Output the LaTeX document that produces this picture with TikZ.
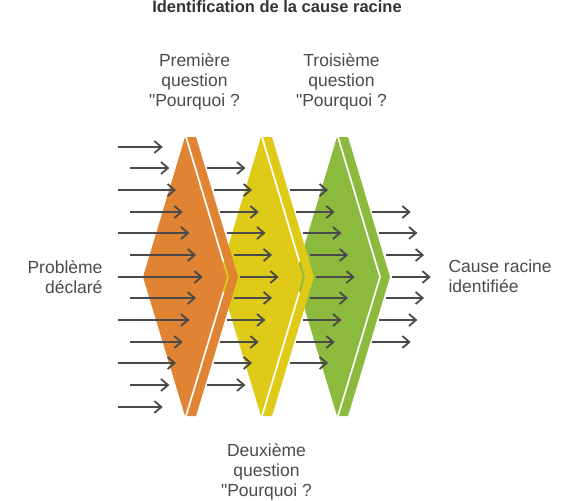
\documentclass[tikz,border=0pt]{standalone}
\usepackage{fontspec}
\setmainfont{Liberation Sans}
\usepackage{xcolor}
\usetikzlibrary{arrows.meta,positioning,calc}
\definecolor{whyorange}{HTML}{E08332}
\definecolor{whyyellow}{HTML}{DECA17}
\definecolor{whygreen}{HTML}{8CBA3C}
\definecolor{flowgray}{HTML}{4A4A4A}
\definecolor{textgray}{HTML}{4B4B4B}

\begin{document}
\begin{tikzpicture}[x=1pt,y=-1pt,>={Straight Barb[length=7pt,width=12pt]}]
  \tikzstyle{flow}=[->,draw=flowgray,line width=1.8pt]
  \tikzstyle{label}=[text=textgray,align=center,font=\fontsize{17.5}{20}\selectfont]
  \useasboundingbox (0,0) rectangle (585,500);
  % chevrons, drawn from the back to the front
  \foreach \t/\col in {337/whygreen,261/whyyellow,185/whyorange}{
    \fill[\col] (\t,137) -- (\t+42,277) -- (\t,416) -- (\t-42,277) -- cycle;
    \fill[\col] (\t+2,137) -- (\t+11,137) -- (\t+53,277) -- (\t+11,416)
      -- (\t+2,416) -- (\t+44,277) -- cycle;
  }
  % arrows, one group per stage
  \foreach \g in {0,...,3}{
    \pgfmathtruncatemacro\last{12-\g}
    \foreach \i in {\g,...,\last}{
      \pgfmathsetmacro\d{6-abs(\i-6)}
      \pgfmathsetmacro\xe{162.7+76*\g+6.67*\d}
      \pgfmathsetmacro\xs{\g==0 ? (isodd(\i) ? 130 : 118) : \xe-38.5}
      \pgfmathsetmacro\yy{round(146.7+21.67*\i)}
      \draw[flow] (\xs,\yy) -- (\xe,\yy);
    }
  }
  \node[text=black!80,font=\fontsize{16.5}{18}\selectfont\bfseries] (title) at (277,7) {Identification de la cause racine};
  \node[label] (q1) at (194.5,81.5) {Première\\question\\\textquotedbl Pourquoi ?};
  \node[label] (q3) at (341.5,81.5) {Troisième\\question\\\textquotedbl Pourquoi ?};
  \node[label] (q2) at (266.5,472) {Deuxième\\question\\\textquotedbl Pourquoi ?};
  \node[label,align=right,anchor=east] (problem) at (106,277) {Problème\\déclaré};
  \node[label,align=left,anchor=west] (cause) at (445,276) {Cause racine\\identifiée};
\end{tikzpicture}
\end{document}
